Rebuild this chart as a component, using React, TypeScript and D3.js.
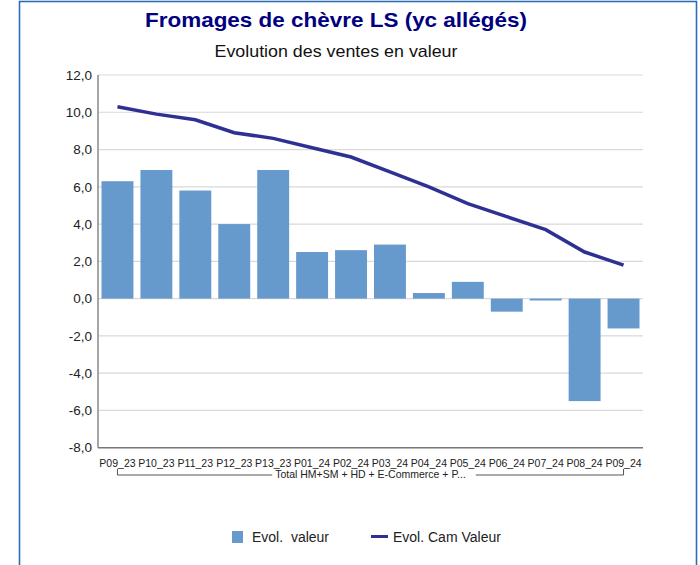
import React, { useRef, useEffect } from "react";
import * as d3 from "d3";

const periods = ["P09_23", "P10_23", "P11_23", "P12_23", "P13_23", "P01_24", "P02_24", "P03_24", "P04_24", "P05_24", "P06_24", "P07_24", "P08_24", "P09_24"];
const evolValeur = [6.3, 6.9, 5.8, 4.0, 6.9, 2.5, 2.6, 2.9, 0.3, 0.9, -0.7, -0.1, -5.5, -1.6];
const evolCam = [10.3, 9.9, 9.6, 8.9, 8.6, 8.1, 7.6, 6.8, 6.0, 5.1, 4.4, 3.7, 2.5, 1.8];
const yTicks = [12, 10, 8, 6, 4, 2, 0, -2, -4, -6, -8];
const groupLabel = "Total HM+SM + HD + E-Commerce + P...";

export default function App() {
  const svgRef = useRef<SVGSVGElement>(null);

  useEffect(() => {
    const svg = d3.select(svgRef.current);
    svg.selectAll("*").remove();

    const H = 565;
    const left = 98, right = 643, top = 75, bottom = 447.7;
    const font = "Tahoma, 'Liberation Sans', Arial, sans-serif";

    // frame
    svg.append("rect").attr("x", 19.5).attr("y", 1.5).attr("width", 677).attr("height", H + 5)
      .attr("fill", "#fff").attr("stroke", "#2f6db3").attr("stroke-width", 1.6);

    svg.append("text").attr("x", 336).attr("y", 27).attr("text-anchor", "middle")
      .attr("font-family", font).attr("font-weight", "bold").attr("font-size", 21)
      .attr("textLength", 382).attr("lengthAdjust", "spacingAndGlyphs")
      .attr("fill", "#000080").text("Fromages de chèvre LS (yc allégés)");
    svg.append("text").attr("x", 336).attr("y", 56.5).attr("text-anchor", "middle")
      .attr("font-family", font).attr("font-size", 17)
      .attr("textLength", 243).attr("lengthAdjust", "spacingAndGlyphs")
      .attr("fill", "#111").text("Evolution des ventes en valeur");

    const x = d3.scaleBand().domain(periods).range([left, right]).paddingInner(0.18).paddingOuter(0.09);
    const y = d3.scaleLinear().domain([-8, 12]).range([bottom, top]);

    const g = svg.append("g");

    // gridlines
    g.selectAll(".grid").data(yTicks.filter(t => t !== -8)).enter().append("line")
      .attr("x1", left).attr("x2", right)
      .attr("y1", d => y(d)).attr("y2", d => y(d))
      .attr("stroke", "#d9d9d9").attr("stroke-width", 1.2);

    // y tick labels
    g.selectAll(".ytick").data(yTicks).enter().append("text")
      .attr("x", 92).attr("y", d => y(d)).attr("dy", "0.35em")
      .attr("text-anchor", "end").attr("font-family", font).attr("font-size", 13.5)
      .attr("fill", "#222").text(d => d3.format(".1f")(d).replace(".", ",").replace("−", "-"));

    // bars
    g.selectAll(".bar").data(evolValeur).enter().append("rect")
      .attr("x", (d, i) => x(periods[i])!)
      .attr("width", x.bandwidth())
      .attr("y", d => y(Math.max(0, d)))
      .attr("height", d => Math.abs(y(d) - y(0)))
      .attr("fill", "#6699cc");

    // axes lines
    g.append("line").attr("x1", left).attr("x2", left).attr("y1", top).attr("y2", bottom)
      .attr("stroke", "#888").attr("stroke-width", 1.5);
    g.append("line").attr("x1", left).attr("x2", right).attr("y1", bottom).attr("y2", bottom)
      .attr("stroke", "#777").attr("stroke-width", 1.5);

    // cam line
    const line = d3.line<number>()
      .x((d, i) => x(periods[i])! + x.bandwidth() / 2)
      .y(d => y(d));
    g.append("path").datum(evolCam).attr("d", line).attr("fill", "none")
      .attr("stroke", "#2e3192").attr("stroke-width", 3.5);

    // category labels
    g.selectAll(".xlab").data(periods).enter().append("text")
      .attr("x", d => x(d)! + x.bandwidth() / 2).attr("y", 467)
      .attr("text-anchor", "middle").attr("font-family", font).attr("font-size", 10.5)
      .attr("fill", "#222").text(d => d);

    // group bracket
    const x0 = x(periods[0])! + x.bandwidth() / 2;
    const x1 = x(periods[periods.length - 1])! + x.bandwidth() / 2;
    const gt = g.append("text").attr("x", (x0 + x1) / 2).attr("y", 478)
      .attr("text-anchor", "middle").attr("font-family", font).attr("font-size", 10.5)
      .attr("fill", "#222").text(groupLabel);
    const tw = (gt.node() as SVGTextElement).getComputedTextLength();
    const mid = (x0 + x1) / 2;
    const by = 475;
    g.append("path")
      .attr("d", `M${x0},469V${by}H${mid - tw / 2 - 3}M${mid + tw / 2 + 10},${by}H${x1}V469`)
      .attr("fill", "none").attr("stroke", "#555").attr("stroke-width", 1);

    // legend
    svg.append("rect").attr("x", 232).attr("y", 531).attr("width", 11).attr("height", 12).attr("fill", "#6699cc");
    svg.append("text").attr("x", 252).attr("y", 541.5).attr("font-family", font).attr("font-size", 14)
      .attr("fill", "#222").style("white-space", "pre").text("Evol.  valeur");
    svg.append("line").attr("x1", 371).attr("x2", 388).attr("y1", 536.5).attr("y2", 536.5)
      .attr("stroke", "#2e3192").attr("stroke-width", 3);
    svg.append("text").attr("x", 393).attr("y", 541.5).attr("font-family", font).attr("font-size", 14)
      .attr("fill", "#222").text("Evol. Cam Valeur");
  }, []);

  return (
    <svg ref={svgRef} width={700} height={565}
      style={{ position: "absolute", left: 0, top: 0, background: "#fff" }} />
  );
}
